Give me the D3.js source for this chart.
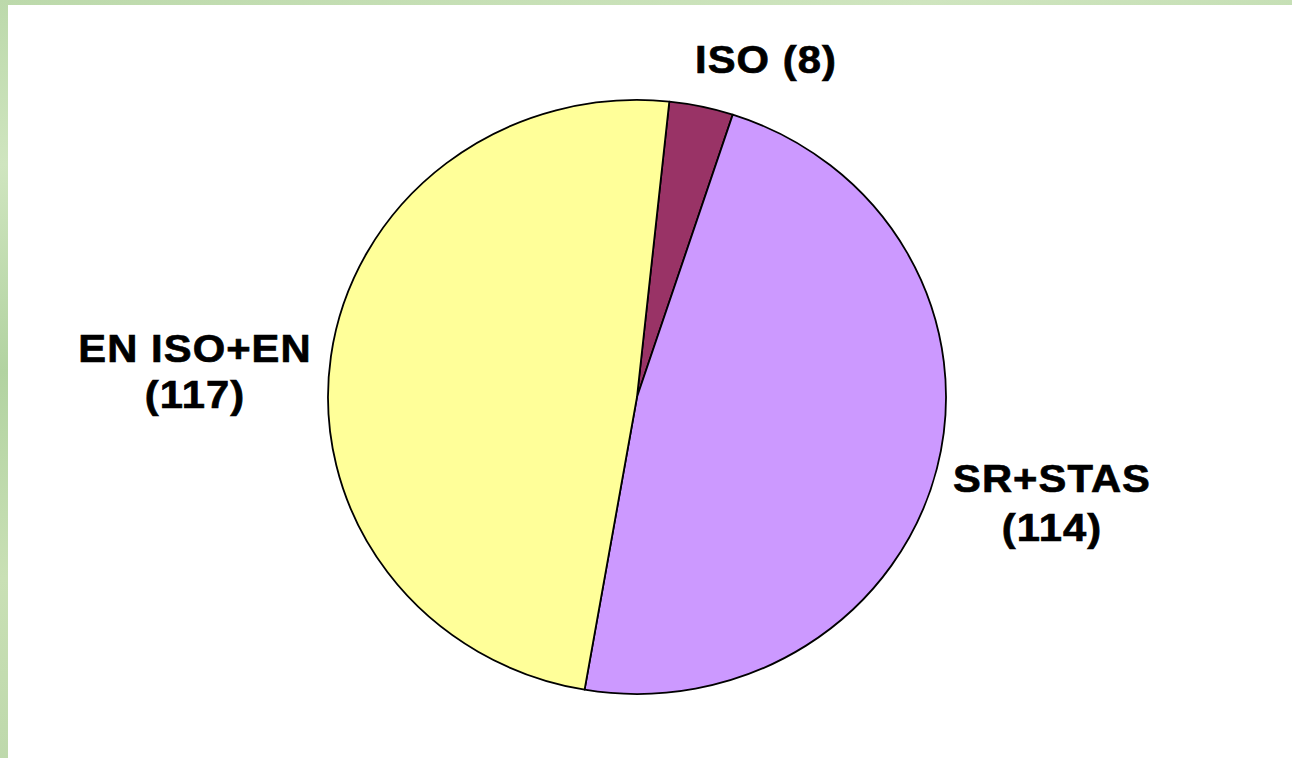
<!DOCTYPE html>
<html lang="en">
<head>
  <meta charset="UTF-8">
  <title>Pie</title>
  <style>
    body { margin: 0; overflow: hidden; }
    text { font-family: "Liberation Sans", Arial, sans-serif; font-weight: bold; }
  </style>
</head>
<body>
  <script src="https://cdn.jsdelivr.net/npm/d3@7/dist/d3.min.js"></script>
  <script>
    // data
    let names = ["ISO", "SR+STAS", "EN ISO+EN"];
    let values = [8, 114, 117];
    let colors = ["#993366", "#cc99ff", "#ffff99"];

    let width = 1292,
      height = 758;
    let cx = 637, cy = 397, rx = 309, ry = 297;

    let svg = d3.select("body")
      .append("svg")
      .attr("width", width)
      .attr("height", height);

    // green textured border
    let defs = svg.append("defs");
    let grad = defs.append("linearGradient")
      .attr("id", "bg")
      .attr("x1", 0).attr("y1", 0).attr("x2", 0.3).attr("y2", 1);
    [["0", "#bcd9ab"], ["0.2", "#cfe5bf"], ["0.45", "#b2d3a1"], ["0.7", "#c9e0b5"], ["1", "#bad6a8"]]
      .forEach(s => grad.append("stop").attr("offset", s[0]).attr("stop-color", s[1]));
    svg.append("rect")
      .attr("width", width).attr("height", height)
      .attr("fill", "url(#bg)");
    svg.append("rect")
      .attr("x", 8).attr("y", 5)
      .attr("width", width - 8).attr("height", height - 5)
      .attr("fill", "#ffffff");

    // pie
    let start = 6 * Math.PI / 180;
    let pie = d3.pie()
      .sort(null)
      .startAngle(start)
      .endAngle(start + 2 * Math.PI);
    let arc = d3.arc().innerRadius(0).outerRadius(rx);

    let g = svg.append("g")
      .attr("transform", "translate(" + cx + "," + cy + ") scale(1," + (ry / rx) + ")");
    g.selectAll("path")
      .data(pie(values))
      .enter()
      .append("path")
      .attr("d", arc)
      .attr("fill", (d, i) => colors[i])
      .attr("stroke", "#000")
      .attr("stroke-width", 1.8)
      .attr("stroke-linejoin", "round")
      .attr("vector-effect", "non-scaling-stroke");

    // labels (layout: centre x, first baseline, line gap)
    let labelAt = [[766, 73, 0], [1052, 492, 49], [195, 362, 46]];
    let lbl = svg.selectAll("text.lbl")
      .data(names)
      .enter()
      .append("text")
      .attr("class", "lbl")
      .attr("text-anchor", "middle")
      .attr("font-size", 39)
      .attr("letter-spacing", "1px")
      .attr("fill", "#000")
      .attr("stroke", "#000")
      .attr("stroke-width", 0.7)
      .attr("transform", (d, i) => "translate(" + labelAt[i][0] + "," + labelAt[i][1] + ") scale(1.07,1)");
    lbl.each(function(d, i) {
      let t = d3.select(this);
      let p = labelAt[i];
      let lines = i == 0 ? [d + " (" + values[i] + ")"] : [d, "(" + values[i] + ")"];
      lines.forEach((s, j) => {
        t.append("tspan")
          .attr("x", 0)
          .attr("y", j * p[2])
          .text(s);
      });
    });
  </script>
</body>
</html>
